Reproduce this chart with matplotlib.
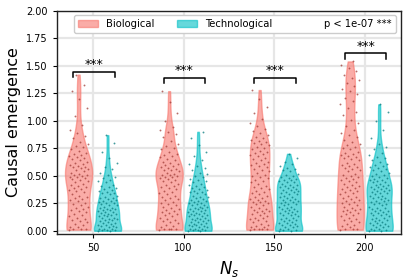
import numpy as np
import matplotlib
matplotlib.use('Agg')
import matplotlib.pyplot as plt
from matplotlib.patches import Patch


N_S = [50, 100, 150, 200]

BIO_50 = [0.01, 0.02, 0.02, 0.02, 0.03, 0.03, 0.05, 0.06, 0.08, 0.09,
          0.10, 0.11, 0.12, 0.13, 0.14, 0.15, 0.17, 0.18, 0.19,
          0.20, 0.21, 0.22, 0.23, 0.24, 0.25, 0.27, 0.28, 0.29,
          0.30, 0.31, 0.32, 0.33, 0.35, 0.36, 0.37, 0.38, 0.39,
          0.40, 0.41, 0.42, 0.43, 0.44, 0.45, 0.46, 0.47, 0.48, 0.49, 0.49,
          0.50, 0.51, 0.51, 0.52, 0.53, 0.54, 0.55, 0.56, 0.57, 0.58, 0.58, 0.59,
          0.60, 0.61, 0.62, 0.63, 0.64, 0.65, 0.66, 0.67, 0.68, 0.69,
          0.70, 0.71, 0.73, 0.74, 0.76, 0.77, 0.79,
          0.81, 0.84, 0.86, 0.89, 0.92, 0.96,
          1.04, 1.12, 1.20, 1.27, 1.33, 1.42]
TECH_50 = [0.00, 0.00, 0.01, 0.01, 0.01, 0.02, 0.02, 0.02, 0.03, 0.03, 0.04, 0.04,
           0.05, 0.05, 0.06, 0.07, 0.07, 0.08, 0.09,
           0.10, 0.10, 0.11, 0.11, 0.12, 0.12, 0.13, 0.13, 0.14, 0.14, 0.15, 0.15,
           0.16, 0.17, 0.17, 0.18, 0.19, 0.19,
           0.20, 0.20, 0.21, 0.21, 0.22, 0.23, 0.23, 0.24, 0.25, 0.25, 0.26, 0.27,
           0.27, 0.28, 0.29,
           0.30, 0.30, 0.31, 0.32, 0.33, 0.34, 0.34, 0.35, 0.36, 0.37, 0.38, 0.39,
           0.40, 0.41, 0.42, 0.44, 0.45, 0.46, 0.48, 0.49,
           0.51, 0.53, 0.56, 0.58, 0.62, 0.66, 0.72, 0.80, 0.87]

BIO_100 = [0.01, 0.02, 0.02, 0.02, 0.02, 0.03, 0.04, 0.05, 0.07, 0.08, 0.09,
           0.10, 0.11, 0.12, 0.13, 0.14, 0.15, 0.16, 0.17, 0.18, 0.19,
           0.20, 0.21, 0.22, 0.23, 0.24, 0.25, 0.26, 0.28, 0.29,
           0.30, 0.31, 0.32, 0.33, 0.34, 0.35, 0.36, 0.38, 0.39,
           0.40, 0.41, 0.42, 0.43, 0.44, 0.45, 0.46, 0.47, 0.48, 0.49, 0.49,
           0.50, 0.51, 0.51, 0.52, 0.53, 0.54, 0.55, 0.55, 0.56, 0.57, 0.58, 0.59,
           0.60, 0.61, 0.62, 0.63, 0.64, 0.65, 0.67, 0.68, 0.69,
           0.70, 0.72, 0.74, 0.75, 0.77, 0.79,
           0.82, 0.85, 0.88, 0.90, 0.92, 0.94,
           1.00, 1.07, 1.17, 1.27]
TECH_100 = [0.00, 0.00, 0.01, 0.01, 0.01, 0.02, 0.02, 0.02, 0.03, 0.03, 0.04, 0.04,
            0.05, 0.05, 0.06, 0.06, 0.07, 0.08, 0.08, 0.09,
            0.10, 0.10, 0.11, 0.11, 0.12, 0.12, 0.13, 0.13, 0.14, 0.14, 0.15, 0.15,
            0.16, 0.16, 0.17, 0.18, 0.18, 0.19,
            0.20, 0.20, 0.21, 0.21, 0.22, 0.22, 0.23, 0.23, 0.24, 0.25, 0.25, 0.26,
            0.27, 0.27, 0.28, 0.29,
            0.30, 0.31, 0.31, 0.32, 0.33, 0.34, 0.35, 0.35, 0.36, 0.37, 0.38, 0.39,
            0.40, 0.41, 0.42, 0.43, 0.44, 0.45, 0.46, 0.47, 0.49,
            0.50, 0.52, 0.53, 0.55, 0.57, 0.59,
            0.61, 0.64, 0.68, 0.72, 0.78, 0.84, 0.90]

BIO_150 = [0.01, 0.02, 0.02, 0.02, 0.02, 0.03, 0.03, 0.04, 0.05, 0.06, 0.08, 0.09,
           0.10, 0.11, 0.12, 0.12, 0.13, 0.14, 0.15, 0.16, 0.17, 0.18, 0.18, 0.19,
           0.20, 0.21, 0.22, 0.23, 0.24, 0.25, 0.26, 0.26, 0.27, 0.28, 0.29,
           0.30, 0.31, 0.32, 0.33, 0.34, 0.35, 0.36, 0.38, 0.39,
           0.40, 0.41, 0.43, 0.44, 0.45, 0.46, 0.48, 0.49,
           0.50, 0.51, 0.53, 0.54, 0.55, 0.56, 0.58, 0.59,
           0.60, 0.61, 0.62, 0.63, 0.64, 0.65, 0.66, 0.68, 0.69,
           0.70, 0.71, 0.72, 0.73, 0.74, 0.75, 0.76, 0.78, 0.79,
           0.80, 0.81, 0.82, 0.83, 0.84, 0.85, 0.87, 0.89,
           0.91, 0.93, 0.95, 0.98, 1.02, 1.07, 1.13, 1.20, 1.28]
TECH_150 = [0.00, 0.00, 0.01, 0.01, 0.02, 0.02, 0.03, 0.03, 0.04, 0.05, 0.05, 0.06,
            0.07, 0.07, 0.08, 0.09,
            0.10, 0.10, 0.11, 0.12, 0.12, 0.13, 0.14, 0.14, 0.15, 0.16, 0.16, 0.17,
            0.18, 0.18, 0.19,
            0.20, 0.20, 0.21, 0.22, 0.22, 0.23, 0.24, 0.24, 0.25, 0.26, 0.26, 0.27,
            0.28, 0.28, 0.29,
            0.30, 0.31, 0.31, 0.32, 0.33, 0.33, 0.34, 0.35, 0.35, 0.36, 0.37, 0.37,
            0.38, 0.39,
            0.40, 0.40, 0.41, 0.42, 0.42, 0.43, 0.44, 0.44, 0.45, 0.46, 0.46, 0.47,
            0.48, 0.49,
            0.50, 0.51, 0.52, 0.54, 0.55, 0.56, 0.57, 0.59,
            0.61, 0.63, 0.66, 0.70]

BIO_200 = [0.01, 0.02, 0.02, 0.02, 0.03, 0.04, 0.05, 0.06, 0.08, 0.09,
           0.10, 0.11, 0.12, 0.13, 0.14, 0.15, 0.16, 0.17, 0.18, 0.19, 0.19,
           0.20, 0.21, 0.22, 0.23, 0.24, 0.25, 0.26, 0.27, 0.28, 0.29,
           0.30, 0.31, 0.32, 0.33, 0.34, 0.35, 0.36, 0.37, 0.38, 0.39,
           0.40, 0.41, 0.42, 0.43, 0.44, 0.45, 0.46, 0.47, 0.48, 0.49,
           0.50, 0.51, 0.52, 0.54, 0.55, 0.56, 0.57, 0.58, 0.59,
           0.60, 0.61, 0.62, 0.64, 0.65, 0.66, 0.67, 0.68, 0.69,
           0.70, 0.71, 0.72, 0.74, 0.75, 0.76, 0.78, 0.79,
           0.81, 0.83, 0.85, 0.87, 0.89, 0.92, 0.95, 0.98,
           1.01, 1.05, 1.08, 1.12, 1.15, 1.18, 1.21, 1.24, 1.27, 1.29,
           1.32, 1.34, 1.37, 1.39, 1.42, 1.45, 1.48, 1.51, 1.54]
TECH_200 = [0.00, 0.00, 0.01, 0.01, 0.02, 0.02, 0.03, 0.03, 0.04, 0.05, 0.05, 0.06,
            0.07, 0.07, 0.08, 0.09,
            0.10, 0.10, 0.11, 0.12, 0.12, 0.13, 0.14, 0.14, 0.15, 0.16, 0.16, 0.17,
            0.18, 0.18, 0.19,
            0.20, 0.21, 0.21, 0.22, 0.23, 0.24, 0.24, 0.25, 0.26, 0.27, 0.27, 0.28,
            0.29,
            0.30, 0.30, 0.31, 0.32, 0.32, 0.33, 0.34, 0.34, 0.35, 0.36, 0.36, 0.37,
            0.38, 0.38, 0.39,
            0.40, 0.40, 0.41, 0.42, 0.42, 0.43, 0.44, 0.44, 0.45, 0.46, 0.46, 0.47,
            0.48, 0.49,
            0.50, 0.51, 0.52, 0.53, 0.54, 0.55, 0.56, 0.57, 0.58, 0.59,
            0.60, 0.61, 0.63, 0.64, 0.66, 0.67, 0.69,
            0.71, 0.74, 0.76, 0.79, 0.84, 0.92, 1.00, 1.08, 1.15]

BIO = [BIO_50, BIO_100, BIO_150, BIO_200]
TECH = [TECH_50, TECH_100, TECH_150, TECH_200]

BRACKET_Y = [1.445, 1.39, 1.39, 1.615]
LEGEND_LABELS = ['Biological', 'Technological', 'p < 1e-07 ***']

BIO_COLOR = '#F8766D'
TECH_COLOR = '#00BFC4'
BIO_DOT = '#9E3B36'
TECH_DOT = '#067A7C'
BW = 0.25
REFLECT = 0.7   # weight of the mirrored points at the lower bound


def violin_stats(vals):
    # gaussian kde, partly reflected at the lower bound, cut at the data range
    v = np.asarray(vals, dtype=float)
    lo, hi = v.min(), v.max()
    h = BW * v.std(ddof=1)
    coords = np.linspace(lo, hi, 150)
    k = lambda p: np.exp(-0.5 * ((coords[:, None] - p[None, :]) / h) ** 2).sum(axis=1)
    dens = k(v) + REFLECT * k(2 * lo - v)
    return dict(coords=coords, vals=dens, mean=v.mean(), median=np.median(v),
                min=lo, max=hi)


def draw_group(ax, data, positions, color, dot):
    stats = [violin_stats(d) for d in data]
    parts = ax.violin(stats, positions=positions, widths=15, showextrema=False)
    for body in parts['bodies']:
        body.set_facecolor(color)
        body.set_edgecolor(color)
        body.set_alpha(0.6)
        body.set_linewidth(1.0)
        body.set_zorder(2)
    for p, vals in zip(positions, data):
        vals = np.asarray(vals)
        # deterministic spread across the violin
        jit = ((np.arange(len(vals)) * 0.618034) % 1 - 0.5) * 11
        ax.scatter(p + jit, vals, s=1.8, color=dot, alpha=0.75,
                   linewidths=0, zorder=3)


if __name__ == "__main__":

    fig = plt.figure(figsize=(4.12, 2.79), dpi=100)
    ax = fig.add_axes([0.138, 0.161, 0.835, 0.8])

    x = np.array(N_S, dtype=float)
    draw_group(ax, BIO, x - 8, BIO_COLOR, BIO_DOT)
    draw_group(ax, TECH, x + 8, TECH_COLOR, TECH_DOT)

    # significance brackets
    for xi, yb in zip(x, BRACKET_Y):
        ax.plot([xi - 11, xi - 11, xi + 12, xi + 12],
                [yb - 0.05, yb, yb, yb - 0.05], color='black', lw=1.1, zorder=4)
        ax.text(xi + 0.5, yb + 0.005, '***', ha='center', va='bottom', fontsize=9)

    ax.set_xlim(30, 220)
    ax.set_ylim(-0.03, 2.0)
    ax.set_xticks(N_S)
    ax.set_yticks(np.arange(0, 2.01, 0.25))
    ax.set_yticklabels(['%.2f' % v for v in np.arange(0, 2.01, 0.25)])
    ax.tick_params(labelsize=7, length=3, width=0.8)
    ax.grid(color='#E6E6E6', linewidth=1.6, zorder=0)
    ax.set_axisbelow(True)
    for s in ax.spines.values():
        s.set_linewidth(1.0)
        s.set_color('#222222')

    ax.set_xlabel('$N_s$', fontsize=12)
    ax.set_ylabel('Causal emergence', fontsize=11.5)

    handles = [Patch(facecolor=BIO_COLOR, edgecolor=BIO_COLOR, alpha=0.6),
               Patch(facecolor=TECH_COLOR, edgecolor=TECH_COLOR, alpha=0.6),
               Patch(facecolor='none', edgecolor='none')]
    ax.legend(handles, LEGEND_LABELS, ncol=3, mode='expand', fontsize=7.2,
              bbox_to_anchor=(0.049, 0.9, 0.936, 0.077), loc='lower left',
              borderaxespad=0, handlelength=2.0, framealpha=1)

    plt.savefig('out.png', dpi=100)
